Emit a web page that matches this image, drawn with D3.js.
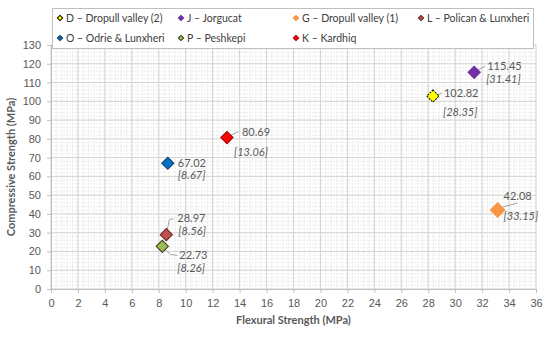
<!DOCTYPE html>
<html>
<head>
<meta charset="UTF-8">
<title>Flexural vs compressive strength</title>
<script src="https://cdn.jsdelivr.net/npm/d3@7"></script>
<style>
  body { margin: 0; background: #fff; }
  svg { display: block; font-family: "Lato", "Open Sans", sans-serif; }
  .tick text { fill: #595959; font-size: 11px; }
  .axis path, .axis line { stroke: #bfbfbf; }
  .lbl { fill: #595959; font-size: 11px; }
  .lbl-it { font-style: italic; }
  .leg { fill: #404040; font-size: 10.5px; }
</style>
</head>
<body>
<svg width="550" height="337"></svg>
<script>
// quarry samples
var codes = ["D", "J", "G", "L", "O", "P", "K"];
var names = ["Dropull valley (2)", "Jorgucat", "Dropull valley (1)", "Polican & Lunxheri",
             "Odrie & Lunxheri", "Peshkepi", "Kardhiq"];
var flexural = [28.35, 31.41, 33.15, 8.56, 8.67, 8.26, 13.06];
var compressive = [102.82, 115.45, 42.08, 28.97, 67.02, 22.73, 80.69];

var xTicks = d3.range(0, 37, 2);
var yTicks = d3.range(0, 131, 10);

// look of each marker
var fills   = ["#ffff00", "#7030a0", "#f79646", "#c0504d", "#0070c0", "#9bbb59", "#ff0000"];
var strokes = ["#000000", "#7030a0", "#f79646", "#632523", "#1f3864", "#3a3a1a", "#a00000"];
var dashes  = ["2,1", null, null, null, null, null, null];
var sizes   = [75, 75, 105, 75, 75, 75, 75];

// label placement relative to the point: [dx, dy value line, dy italic line], leader polyline
var labelPos = {
  D: { v: [11, -3], f: [10, 16], lead: [[4, -1], [9, -3]] },
  J: { v: [13, -6], f: [12, 7], lead: [[3, -2], [11, -6]] },
  G: { v: [6, -14], f: [6, 6], lead: [[5, -3], [20, -7]] },
  L: { v: [11, -16], f: [12, -3], lead: [[1, -5], [3, -15], [7, -16]] },
  O: { v: [10, 0], f: [10, 12], lead: null },
  P: { v: [17, 9], f: [15, 22], lead: [[2, 2], [8, 8], [15, 9]] },
  K: { v: [15, -5], f: [7, 15], lead: [[3, -2], [12, -6]] }
};

var svg = d3.select("svg");
var m = { left: 51, right: 536, top: 45, bottom: 289 };

var x = d3.scaleLinear().domain([0, 36]).range([m.left, m.right]);
var y = d3.scaleLinear().domain([0, 130]).range([m.bottom, m.top]);

// minor grid
var xMinor = d3.range(0, 36.001, 0.4);
var yMinor = d3.range(0, 130.001, 2);
svg.append("g").selectAll("line").data(xMinor).join("line")
  .attr("x1", d => x(d)).attr("x2", d => x(d))
  .attr("y1", m.top).attr("y2", m.bottom)
  .attr("stroke", "#ececec").attr("stroke-dasharray", "2,1");
svg.append("g").selectAll("line").data(yMinor).join("line")
  .attr("x1", m.left).attr("x2", m.right)
  .attr("y1", d => y(d)).attr("y2", d => y(d))
  .attr("stroke", "#ececec").attr("stroke-dasharray", "2,1");

// major grid
svg.append("g").selectAll("line").data(xTicks).join("line")
  .attr("x1", d => x(d)).attr("x2", d => x(d))
  .attr("y1", m.top).attr("y2", m.bottom)
  .attr("stroke", "#d4d4d4");
svg.append("g").selectAll("line").data(yTicks).join("line")
  .attr("x1", m.left).attr("x2", m.right)
  .attr("y1", d => y(d)).attr("y2", d => y(d))
  .attr("stroke", "#d4d4d4");

// axes
var xAxis = svg.append("g").attr("class", "axis")
  .attr("transform", "translate(0," + m.bottom + ")")
  .call(d3.axisBottom(x).tickValues(xTicks).tickSize(4).tickPadding(6).tickSizeOuter(0));
var yAxis = svg.append("g").attr("class", "axis")
  .attr("transform", "translate(" + m.left + ",0)")
  .call(d3.axisLeft(y).tickValues(yTicks).tickSize(4).tickPadding(6).tickSizeOuter(0));
xAxis.selectAll("text").style("font-size", "11px");
yAxis.selectAll("text").style("font-size", "11px");

svg.append("text")
  .attr("x", (m.left + m.right) / 2).attr("y", 324)
  .attr("text-anchor", "middle")
  .style("font-size", "11px").style("font-weight", "bold").style("fill", "#595959")
  .text("Flexural Strength (MPa)");
svg.append("text")
  .attr("transform", "translate(15," + ((m.top + m.bottom) / 2) + ") rotate(-90)")
  .attr("text-anchor", "middle")
  .style("font-size", "11px").style("font-weight", "bold").style("fill", "#595959")
  .text("Compressive Strength (MPa)");

var pts = codes.map(function (c, i) {
  return { code: c, name: names[i], fx: flexural[i], cs: compressive[i], i: i };
});

function diamond(size) {
  return d3.symbol().type(d3.symbolSquare).size(size)();
}

// leader lines
var line = d3.line();
svg.append("g").selectAll("path").data(pts.filter(d => labelPos[d.code].lead)).join("path")
  .attr("d", function (d) {
    var px = x(d.fx), py = y(d.cs);
    return line(labelPos[d.code].lead.map(p => [px + p[0], py + p[1]]));
  })
  .attr("fill", "none").attr("stroke", "#a6a6a6").attr("stroke-width", 1);

// points
svg.append("g").selectAll("path").data(pts).join("path")
  .attr("d", d => diamond(sizes[d.i]))
  .attr("transform", d => "translate(" + x(d.fx) + "," + y(d.cs) + ") rotate(45)")
  .attr("fill", d => fills[d.i])
  .attr("stroke", d => strokes[d.i])
  .attr("stroke-width", 1)
  .attr("stroke-dasharray", d => dashes[d.i]);

// labels
var lab = svg.append("g").selectAll("g").data(pts).join("g")
  .attr("transform", d => "translate(" + x(d.fx) + "," + y(d.cs) + ")");
lab.append("text").attr("class", "lbl")
  .attr("x", d => labelPos[d.code].v[0]).attr("y", d => labelPos[d.code].v[1])
  .attr("dy", "0.35em")
  .text(d => d.cs.toFixed(2));
lab.append("text").attr("class", "lbl lbl-it")
  .attr("x", d => labelPos[d.code].f[0]).attr("y", d => labelPos[d.code].f[1])
  .attr("dy", "0.35em")
  .text(d => "[" + d.fx.toFixed(2) + "]");

// legend
var legend = svg.append("g");
legend.append("rect")
  .attr("x", 52.5).attr("y", 8.5).attr("width", 481).attr("height", 40)
  .attr("fill", "#fff").attr("stroke", "#bfbfbf");
var colX = [60, 181, 296, 421];
var rowY = [18, 38];
var li = legend.selectAll("g").data(pts).join("g")
  .attr("transform", (d, k) => "translate(" + colX[k % 4] + "," + rowY[Math.floor(k / 4)] + ")");
li.append("path")
  .attr("d", d => diamond(14))
  .attr("transform", "rotate(45)")
  .attr("fill", d => fills[d.i])
  .attr("stroke", d => strokes[d.i])
  .attr("stroke-width", 1);
li.append("text").attr("class", "leg")
  .attr("x", 6).attr("dy", "0.35em")
  .text(d => d.code + " \u2013 " + d.name);
</script>
</body>
</html>
